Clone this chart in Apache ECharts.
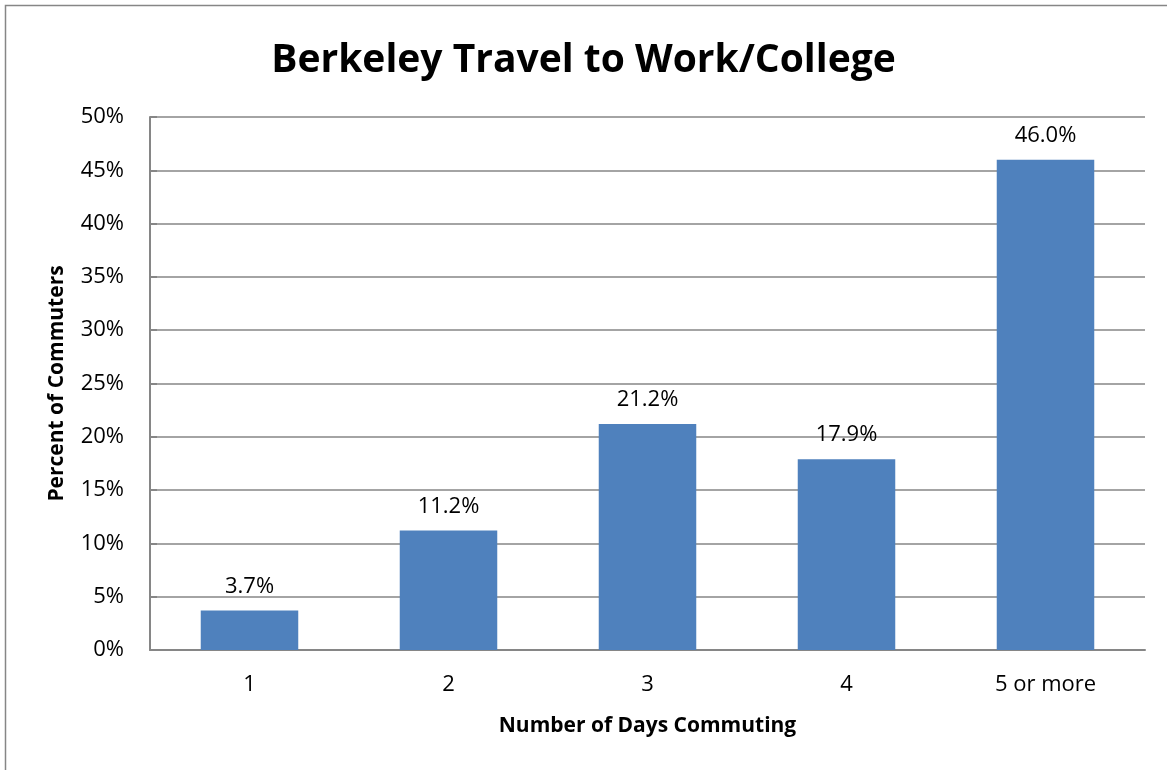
<!DOCTYPE html>
<html><head><meta charset="utf-8">
<script src="https://cdn.jsdelivr.net/npm/echarts@6/dist/echarts.min.js"></script>
<style>html,body{margin:0;padding:0;background:#fff}#c{width:1167px;height:770px}</style>
</head><body><div id="c"></div>
<script>
const categories = ['1', '2', '3', '4', '5 or more'];
const percentCommuters = [3.7, 11.2, 21.2, 17.9, 46.0];
const titleText = 'Berkeley Travel to Work/College';
const xName = 'Number of Days Commuting';
const yName = 'Percent of Commuters';
const FONT = '"Open Sans", "Noto Sans", sans-serif';
const chart = echarts.init(document.getElementById('c'));
chart.setOption({
  animation: false,
  backgroundColor: '#fff',
  graphic: [{type: 'rect', shape: {x: 5.5, y: 5.5, width: 1200, height: 800}, style: {fill: 'none', stroke: '#868686', lineWidth: 1.5}, silent: true}],
  title: {text: titleText, left: 'center', top: 36, textStyle: {fontFamily: FONT, fontSize: 39, fontWeight: 'bold', color: '#000'}},
  grid: {left: 150, top: 117, right: 22, bottom: 120, containLabel: false},
  xAxis: {
    type: 'category', data: categories,
    name: xName, nameLocation: 'middle', nameGap: 66,
    nameTextStyle: {fontFamily: FONT, fontSize: 21, fontWeight: 'bold', color: '#000'},
    axisLine: {lineStyle: {color: '#868686', width: 2}},
    axisTick: {inside: true, length: 7, lineStyle: {color: '#868686', width: 2}},
    axisLabel: {fontFamily: FONT, fontSize: 22, color: '#000', margin: 24},
    splitLine: {show: false}
  },
  yAxis: {
    type: 'value', min: 0, max: 50, interval: 5,
    name: yName, nameLocation: 'middle', nameGap: 82, nameRotate: 90,
    nameTextStyle: {fontFamily: FONT, fontSize: 21, fontWeight: 'bold', color: '#000'},
    axisLine: {show: true, lineStyle: {color: '#868686', width: 2}},
    axisTick: {show: true, inside: true, length: 7, lineStyle: {color: '#868686', width: 2}},
    axisLabel: {fontFamily: FONT, fontSize: 22, color: '#000', margin: 26, formatter: '{value}%'},
    splitLine: {show: true, lineStyle: {color: '#868686', width: 1.5}}
  },
  series: [{
    type: 'bar', data: percentCommuters, barWidth: '49%',
    itemStyle: {color: '#4F81BD'},
    label: {show: true, position: 'top', distance: 13, fontFamily: FONT, fontSize: 22, color: '#000',
      formatter: p => p.value.toFixed(1) + '%'}
  }]
});
</script></body></html>
